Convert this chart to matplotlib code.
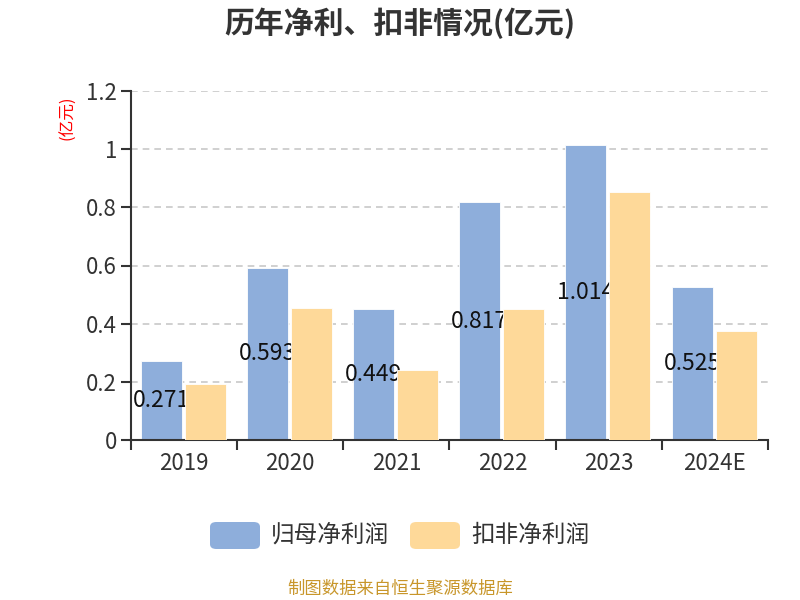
import matplotlib
matplotlib.use("Agg")
import matplotlib.pyplot as plt
from matplotlib.patches import FancyBboxPatch
import numpy as np

plt.rcParams['font.family'] = ['Noto Sans CJK SC', 'DejaVu Sans']

years = ["2019", "2020", "2021", "2022", "2023", "2024E"]
net_profit = [0.271, 0.593, 0.449, 0.817, 1.014, 0.525]
deducted_profit = [0.193, 0.454, 0.241, 0.449, 0.853, 0.376]
series_names = ["归母净利润", "扣非净利润"]
yticks = [0, 0.2, 0.4, 0.6, 0.8, 1.0, 1.2]
ytick_labels = ["0", "0.2", "0.4", "0.6", "0.8", "1", "1.2"]

blue = "#8eaedb"
orange = "#fed999"
dark = "#333333"

fig = plt.figure(figsize=(8, 6), dpi=100)
ax = fig.add_axes([0.16375, 0.2667, 0.79625, 0.5816])

x = np.arange(len(years))
w = 0.386
ax.bar(x - 0.215, net_profit, width=w, color=blue, edgecolor="white", linewidth=0.6, zorder=2)
for xi, v in zip(x, net_profit):
    ax.text(xi - 0.215, v / 2, f"{v:.3f}", ha="center", va="center",
            fontsize=16.5, color="#111111", zorder=3)
ax.bar(x + 0.2, deducted_profit, width=w, color=orange, edgecolor="white", linewidth=0.6, zorder=4)

ax.set_xlim(-0.5, len(years) - 0.5)
ax.set_ylim(0, 1.2)
ax.set_yticks(yticks)
ax.set_yticklabels(ytick_labels)
for yv in yticks[1:]:
    ax.axhline(yv, color="#c8c8c8", linestyle=(0, (4, 3)), linewidth=1.2, zorder=1)

ax.set_xticks(x)
ax.set_xticklabels(years)
ax.set_xticks(np.arange(len(years) + 1) - 0.5, minor=True)
ax.tick_params(axis="x", which="major", length=0, labelsize=16, colors=dark, pad=9)
ax.tick_params(axis="x", which="minor", length=7, width=1.5, color=dark, direction="out")
ax.tick_params(axis="y", length=7, width=1.5, color=dark, labelsize=16, labelcolor=dark, pad=3)

for s in ["top", "right"]:
    ax.spines[s].set_visible(False)
for s in ["left", "bottom"]:
    ax.spines[s].set_color(dark)
    ax.spines[s].set_linewidth(1.5)

fig.text(0.5, 0.962, "历年净利、扣非情况(亿元)", ha="center", va="center",
         fontsize=21.5, fontweight="bold", color=dark)
fig.text(0.085, 0.803, "(亿元)", ha="center", va="center", rotation=90,
         fontsize=12, color="red")

# legend
for i, (name, col) in enumerate(zip(series_names, [blue, orange])):
    x0 = 210 + i * 200
    patch = FancyBboxPatch((x0 / 800, (600 - 549) / 600), 50 / 800, 27 / 600,
                           boxstyle="round,pad=0,rounding_size=0.008",
                           transform=fig.transFigure, facecolor=col, edgecolor="none")
    fig.patches.append(patch)
    fig.text((x0 + 61) / 800, (600 - 535) / 600, name, ha="left", va="center",
             fontsize=17, color=dark)

fig.text(0.5, (600 - 589) / 600, "制图数据来自恒生聚源数据库", ha="center", va="center",
         fontsize=12.5, color="#c8962a")

fig.savefig("out.png", dpi=100)
